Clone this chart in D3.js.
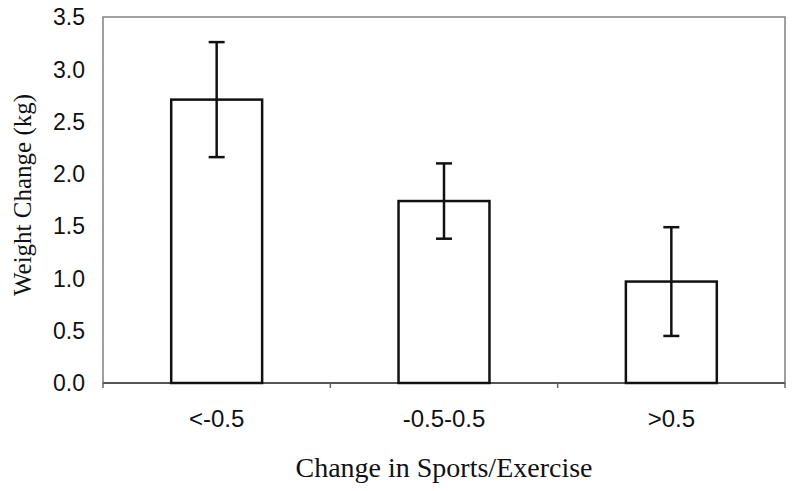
<!DOCTYPE html>
<html lang="en">
<head>
    <meta charset="UTF-8">
    <title>Weight Change by Change in Sports/Exercise</title>
    <script src="https://d3js.org/d3.v7.min.js"></script>
    <style>
        body, html {
            margin: 0;
            background-color: #fff;
        }
        .tick-label {
            font-family: "Liberation Sans", Arial, sans-serif;
            font-size: 23px;
            fill: #111;
        }
        .axis-title {
            font-family: "Liberation Serif", "Times New Roman", serif;
            fill: #111;
        }
    </style>
</head>
<body>
    <div id="chart"></div>
    <script>
        // Data
        const categories = ["<-0.5", "-0.5-0.5", ">0.5"];
        const means = [2.71, 1.74, 0.97];
        const errors = [0.55, 0.36, 0.52];
        const yTicks = [0, 0.5, 1, 1.5, 2, 2.5, 3, 3.5];

        const width = 800;
        const height = 491;
        const margin = {top: 17, right: 15, bottom: 108, left: 103};
        const plotW = width - margin.left - margin.right;
        const plotH = height - margin.top - margin.bottom;

        const svg = d3.select("#chart")
            .append("svg")
            .attr("width", width)
            .attr("height", height);

        const g = svg.append("g")
            .attr("transform", `translate(${margin.left},${margin.top})`);

        const x = d3.scaleBand()
            .domain(categories)
            .range([0, plotW])
            .paddingInner(0.6)
            .paddingOuter(0.3);

        const y = d3.scaleLinear()
            .domain([0, 3.5])
            .range([plotH, 0]);

        // plot frame
        g.append("rect")
            .attr("x", 0)
            .attr("y", 0)
            .attr("width", plotW)
            .attr("height", plotH)
            .attr("fill", "none")
            .attr("stroke", "#808080")
            .attr("stroke-width", 1.5);

        // bottom axis line
        g.append("line")
            .attr("x1", 0)
            .attr("x2", plotW)
            .attr("y1", y(0))
            .attr("y2", y(0))
            .attr("stroke", "#555")
            .attr("stroke-width", 2);

        // x tick marks between categories
        const step = x.step();
        const bounds = d3.range(categories.length + 1).map(i => x.range()[0] + i * step);
        g.selectAll(".xtick")
            .data(bounds)
            .join("line")
            .attr("x1", d => d)
            .attr("x2", d => d)
            .attr("y1", y(0))
            .attr("y2", y(0) + 5)
            .attr("stroke", "#666")
            .attr("stroke-width", 1.5);

        // y tick labels
        g.selectAll(".ylabel")
            .data(yTicks)
            .join("text")
            .attr("class", "tick-label")
            .attr("x", -18)
            .attr("y", d => y(d))
            .attr("dy", "0.36em")
            .attr("text-anchor", "end")
            .text(d => d3.format(".1f")(d));

        // x tick labels
        g.selectAll(".xlabel")
            .data(categories)
            .join("text")
            .attr("class", "tick-label")
            .attr("x", d => x(d) + x.bandwidth() / 2)
            .attr("y", plotH + 44)
            .attr("text-anchor", "middle")
            .style("font-size", "24px")
            .text(d => d);

        // bars
        g.selectAll(".bar")
            .data(categories)
            .join("rect")
            .attr("x", d => x(d))
            .attr("y", (d, i) => y(means[i]))
            .attr("width", x.bandwidth())
            .attr("height", (d, i) => y(0) - y(means[i]))
            .attr("fill", "#fff")
            .attr("stroke", "#111")
            .attr("stroke-width", 2.5);

        // error bars
        const capW = 16;
        const err = g.selectAll(".err")
            .data(categories)
            .join("g")
            .attr("stroke", "#111")
            .attr("stroke-width", 2.5);

        err.append("line")
            .attr("x1", d => x(d) + x.bandwidth() / 2)
            .attr("x2", d => x(d) + x.bandwidth() / 2)
            .attr("y1", (d, i) => y(means[i] + errors[i]))
            .attr("y2", (d, i) => y(means[i] - errors[i]));

        err.append("line")
            .attr("x1", d => x(d) + x.bandwidth() / 2 - capW / 2)
            .attr("x2", d => x(d) + x.bandwidth() / 2 + capW / 2)
            .attr("y1", (d, i) => y(means[i] + errors[i]))
            .attr("y2", (d, i) => y(means[i] + errors[i]));

        err.append("line")
            .attr("x1", d => x(d) + x.bandwidth() / 2 - capW / 2)
            .attr("x2", d => x(d) + x.bandwidth() / 2 + capW / 2)
            .attr("y1", (d, i) => y(means[i] - errors[i]))
            .attr("y2", (d, i) => y(means[i] - errors[i]));

        // axis titles
        svg.append("text")
            .attr("class", "axis-title")
            .attr("x", margin.left + plotW / 2)
            .attr("y", 477)
            .attr("text-anchor", "middle")
            .style("font-size", "28px")
            .text("Change in Sports/Exercise");

        svg.append("text")
            .attr("class", "axis-title")
            .attr("transform", "translate(31,195) rotate(-90)")
            .attr("text-anchor", "middle")
            .style("font-size", "25px")
            .text("Weight Change (kg)");
    </script>
</body>
</html>
